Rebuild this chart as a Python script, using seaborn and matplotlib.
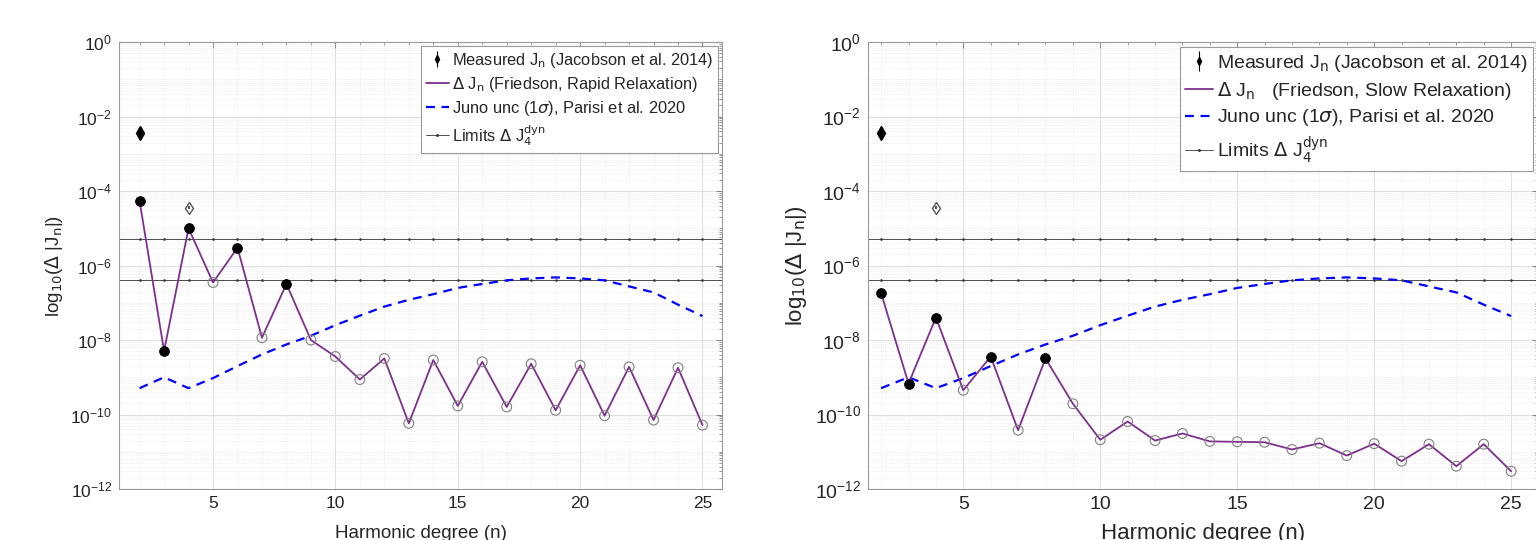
"""Dynamic contribution to J_n vs harmonic degree (rapid vs slow relaxation).

Saves out.png.
"""
import numpy as np
import pandas as pd
import matplotlib
matplotlib.use("Agg")
import matplotlib.pyplot as plt
from matplotlib.ticker import LogLocator, NullFormatter, FixedLocator
import seaborn as sns

degrees = list(range(2, 26))

dj_rapid = [5.4e-5, 5.1e-9, 1.0e-5, 3.5e-7, 3.0e-6, 1.15e-8, 3.2e-7, 1.0e-8,
            3.6e-9, 8.7e-10, 3.2e-9, 5.8e-11, 2.9e-9, 1.7e-10, 2.6e-9, 1.6e-10,
            2.3e-9, 1.3e-10, 2.1e-9, 9.3e-11, 1.9e-9, 7.1e-11, 1.8e-9, 5.2e-11]
dj_slow = [1.8e-7, 6.8e-10, 4.0e-8, 4.5e-10, 3.6e-9, 3.8e-11, 3.2e-9, 1.95e-10,
           2.1e-11, 6.5e-11, 2.0e-11, 3.1e-11, 1.9e-11, 1.85e-11, 1.8e-11, 1.15e-11,
           1.7e-11, 7.9e-12, 1.65e-11, 5.6e-12, 1.6e-11, 4.1e-12, 1.6e-11, 3.0e-12]
juno_unc = [5.1e-10, 1.0e-9, 5.1e-10, 9.5e-10, 2.0e-9, 4.1e-9, 7.6e-9, 1.3e-8,
            2.5e-8, 4.5e-8, 7.9e-8, 1.2e-7, 1.7e-7, 2.5e-7, 3.2e-7, 4.0e-7,
            4.5e-7, 4.8e-7, 4.5e-7, 4.0e-7, 2.75e-7, 1.9e-7, 8.9e-8, 4.4e-8]
filled_degrees = [2, 3, 4, 6, 8]

measured_n = [2, 4]
measured_j = [3.6e-3, 3.6e-5]

limit_vals = [5.1e-6, 4.2e-7]
limit_n = list(range(1, 27))

PURPLE = "#7E2F8E"
BLUE = "#0000FF"

sns.set_style("white")
plt.rcParams["font.family"] = ["Liberation Sans", "DejaVu Sans"]
plt.rcParams["mathtext.fontset"] = "dejavusans"

fig = plt.figure(figsize=(15.36, 5.4), dpi=100)
ax_l = fig.add_axes([0.0775, 0.0944, 0.3926, 0.8278])
ax_r = fig.add_axes([0.5651, 0.0944, 0.4360, 0.8278])


def draw(ax, dj, label, xlim, fs, lfs, xlfs, xpad):
    df = pd.DataFrame({"n": degrees, "dj": dj, "unc": juno_unc})
    df["filled"] = df["n"].isin(filled_degrees)

    for v in limit_vals:
        lim = pd.DataFrame({"n": limit_n, "v": [v] * len(limit_n)})
        sns.lineplot(data=lim, x="n", y="v", ax=ax, color="#333333", lw=0.6,
                     marker=".", markersize=2.2, mec="#333333", zorder=2)

    sns.lineplot(data=df, x="n", y="unc", ax=ax, color=BLUE, lw=1.6,
                 linestyle=(0, (4, 3)), zorder=3)
    sns.lineplot(data=df, x="n", y="dj", ax=ax, color=PURPLE, lw=1.3, zorder=4)
    sns.scatterplot(data=df[~df["filled"]], x="n", y="dj", ax=ax, s=50,
                    facecolor="none", edgecolor="#808080", linewidth=0.8, zorder=5)
    sns.scatterplot(data=df[df["filled"]], x="n", y="dj", ax=ax, s=50,
                    color="black", edgecolor="black", zorder=6)

    # measured J2 (filled) and J4 (open)
    ax.errorbar([measured_n[0]], [measured_j[0]], yerr=[[measured_j[0] * 0.1], [measured_j[0] * 0.1]],
                fmt="d", color="black", ms=7, capsize=0, zorder=6)
    ax.errorbar([measured_n[1]], [measured_j[1]], yerr=[[measured_j[1] * 0.1], [measured_j[1] * 0.1]],
                fmt="d", mfc="none", mec="#555555", ecolor="#555555", ms=6, capsize=0, zorder=6)

    ax.set_yscale("log")
    ax.set_ylim(1e-12, 1)
    ax.set_xlim(*xlim)
    ax.set_xticks([5, 10, 15, 20, 25])
    ax.xaxis.set_minor_locator(FixedLocator(np.arange(1, 27)))
    ax.set_yticks([10.0 ** k for k in range(0, -13, -2)])
    ax.yaxis.set_minor_locator(LogLocator(base=10, subs=np.arange(1, 10) / 1.0, numticks=40))
    ax.yaxis.set_minor_formatter(NullFormatter())
    ax.grid(which="major", color="#dddddd", lw=0.7)
    ax.grid(which="minor", color="#e3e3e3", lw=0.5, linestyle=":")
    ax.tick_params(which="both", direction="in", top=True, right=True,
                   labelsize=fs, color="#888888")
    ax.tick_params(which="major", length=4, pad=5)
    ax.tick_params(which="minor", length=2)
    for sp in ax.spines.values():
        sp.set_color("#999999")
        sp.set_linewidth(0.8)
    ax.set_xlabel("Harmonic degree (n)", fontsize=xlfs, labelpad=xpad)
    ax.set_ylabel(r"log$_{10}$($\Delta$ |J$_{\rm n}$|)", fontsize=xlfs, labelpad=4)

    handles = [
        ax.errorbar([], [], yerr=[], fmt="d", color="black", ms=4, capsize=2, lw=0.8),
        plt.Line2D([], [], color=PURPLE, lw=1.3),
        plt.Line2D([], [], color=BLUE, lw=1.6, linestyle=(0, (4, 3))),
        plt.Line2D([], [], color="#333333", lw=0.6, marker=".", ms=2.2),
    ]
    labels = [
        r"Measured J$_{\rm n}$ (Jacobson et al. 2014)",
        label,
        r"Juno unc (1$\sigma$), Parisi et al. 2020",
        r"Limits $\Delta$ J$_4^{\rm dyn}$",
    ]
    leg = ax.legend(handles, labels, loc="upper right", fontsize=lfs, frameon=True,
                    fancybox=False, framealpha=1, edgecolor="#999999",
                    handlelength=1.4, handletextpad=0.2, borderpad=0.3,
                    labelspacing=0.3, borderaxespad=0.25)
    leg.get_frame().set_linewidth(0.8)


draw(ax_l, dj_rapid, r"$\Delta$ J$_{\rm n}$ (Friedson, Rapid Relaxation)",
     (1.16, 25.8), 12.5, 11.8, 13.5, 10)
draw(ax_r, dj_slow, r"$\Delta$ J$_{\rm n}$   (Friedson, Slow Relaxation)",
     (1.52, 25.97), 14, 14, 16, 7)

fig.savefig("out.png", dpi=100)
print("Saved: out.png")
